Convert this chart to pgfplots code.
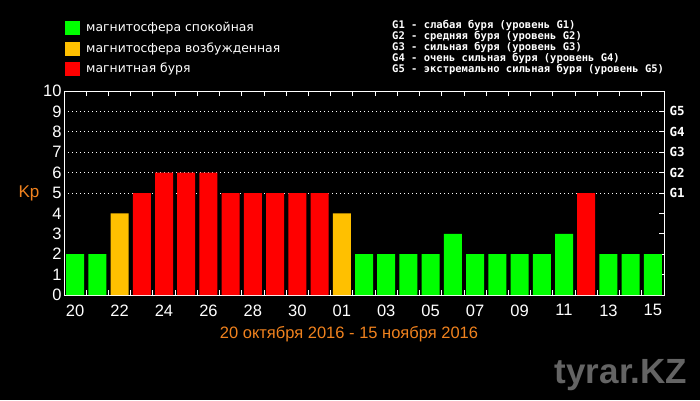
\documentclass[border=0pt]{standalone}
\usepackage{pgfplots}
\pgfplotsset{compat=1.18}
\usepackage{fontspec}
\setmainfont{Liberation Sans}
\newfontfamily\legfont{DejaVu Sans}
\newfontfamily\gfont{DejaVu Sans Mono}
\definecolor{kpgreen}{RGB}{0,255,0}
\definecolor{kpyellow}{RGB}{255,192,0}
\definecolor{kpred}{RGB}{255,0,0}
\definecolor{kporange}{RGB}{240,130,30}
\definecolor{wmgray}{RGB}{100,100,100}

\begin{document}
\begin{tikzpicture}
\useasboundingbox[fill=black] (0,0) rectangle (700pt,400pt);

% legend (top left)
\fill[kpgreen]  (65pt,365pt) rectangle (80pt,379pt);
\fill[kpyellow] (65pt,344pt) rectangle (80pt,358pt);
\fill[kpred]    (65pt,324pt) rectangle (80pt,338pt);
\begin{scope}[every node/.style={anchor=west, text=white, inner sep=0pt, font=\legfont\fontsize{12.4}{14}\selectfont}]
\node at (86pt,372pt) {магнитосфера спокойная};
\node at (86pt,351pt) {магнитосфера возбужденная};
\node at (86pt,331pt) {магнитная буря};
\end{scope}

% G scale (top right)
\begin{scope}[every node/.style={anchor=west, text=white, inner sep=0pt, font=\gfont\bfseries\fontsize{10.5}{12}\selectfont}]
\node at (392pt,375pt) {G1 - слабая буря (уровень G1)};
\node at (392pt,364pt) {G2 - средняя буря (уровень G2)};
\node at (392pt,353pt) {G3 - сильная буря (уровень G3)};
\node at (392pt,342pt) {G4 - очень сильная буря (уровень G4)};
\node at (392pt,331pt) {G5 - экстремально сильная буря (уровень G5)};
\end{scope}

\node[text=kporange, font=\fontsize{17}{19}\selectfont] at (29pt,207pt) {Kp};
\node[text=kporange, font=\fontsize{16.5}{19}\selectfont] at (349pt,66pt) {20 октября 2016 - 15 ноября 2016};
\node[text=wmgray, font=\bfseries\fontsize{35}{40}\selectfont] at (621pt,25pt) {tyrar.KZ};

\begin{axis}[
    at={(64pt,105pt)}, anchor=south west,
    width=600pt, height=204pt, scale only axis,
    xmin=-0.5, xmax=26.5, ymin=0, ymax=10,
    axis line style={white, line width=0.8pt},
    tick style={white, line width=0.8pt},
    tick align=inside,
    major tick length=5pt, minor tick length=5pt,
    xtick={0,2,...,26},
    xticklabels={20,22,24,26,28,30,01,03,05,07,09,11,13,15},
    major x tick style={draw=none},
    minor xtick={0.5,1.5,...,25.5},
    xtick pos=both, xticklabel pos=bottom,
    ytick={0,...,10},
    ytick pos=right, yticklabel pos=left,
    /pgf/number format/assume math mode=true,
    tick label style={text=white, font=\fontsize{16.5}{18}\selectfont},
    xticklabel style={yshift=-6pt},
    yticklabel style={xshift=1pt},
    extra y ticks={5,6,7,8,9},
    extra y tick labels={G1,G2,G3,G4,G5},
    extra y tick style={grid=major,
        major grid style={white, line width=0.8pt, dash pattern=on 1pt off 3pt},
        yticklabel pos=right,
        yticklabel style={font=\gfont\bfseries\fontsize{12.5}{14}\selectfont, xshift=1pt}},
]
\addplot[ybar, bar width=18pt, bar shift=0pt, fill=kpgreen, draw=none]
coordinates {(0,2) (1,2) (13,2) (14,2) (15,2) (16,2) (17,3) (18,2)
             (19,2) (20,2) (21,2) (22,3) (24,2) (25,2) (26,2)};
\addplot[ybar, bar width=18pt, bar shift=0pt, fill=kpyellow, draw=none]
coordinates {(2,4) (12,4)};
\addplot[ybar, bar width=18pt, bar shift=0pt, fill=kpred, draw=none]
coordinates {(3,5) (4,6) (5,6) (6,6) (7,5) (8,5) (9,5) (10,5) (11,5) (23,5)};
\end{axis}
\end{tikzpicture}
\end{document}
